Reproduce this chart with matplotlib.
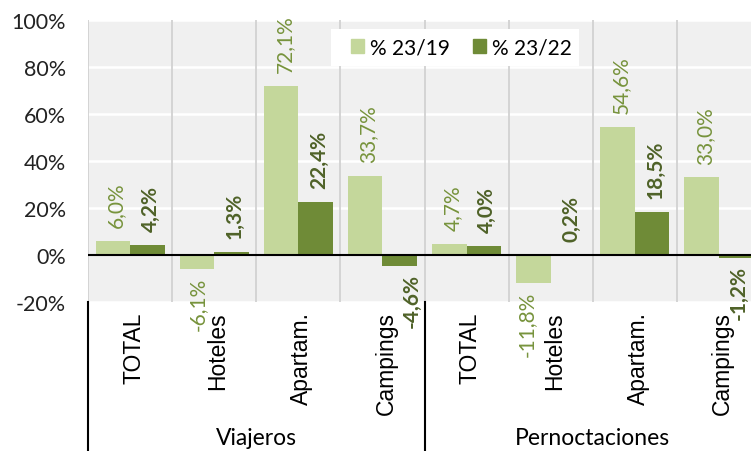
import matplotlib
matplotlib.use("Agg")
import matplotlib.pyplot as plt
from matplotlib.patches import Patch, Rectangle
from matplotlib.lines import Line2D
import matplotlib.transforms as mtrans

categories = ["TOTAL", "Hoteles", "Apartam.", "Campings", "TOTAL", "Hoteles", "Apartam.", "Campings"]
groups = ["Viajeros", "Pernoctaciones"]
series_names = ["% 23/19", "% 23/22"]
v_23_19 = [6.0, -6.1, 72.1, 33.7, 4.7, -11.8, 54.6, 33.0]
v_23_22 = [4.2, 1.3, 22.4, -4.6, 4.0, 0.2, 18.5, -1.2]
yticks = [-20, 0, 20, 40, 60, 80, 100]

# small manual horizontal nudges of some data labels (points), as in the original
nudge_19 = [0, -1, 0, 0, 0, -7, 0, 0]
nudge_22 = [0, 0, 0, 6.5, 0, 0, 0, 0]

light = "#c4d79b"
dark = "#6f8b37"
light_txt = "#77933c"
dark_txt = "#4f6228"
cal = ["Lato", "DejaVu Sans"]
ari = ["Liberation Sans Narrow", "Liberation Sans", "DejaVu Sans"]

W, H = 751, 452
fig = plt.figure(figsize=(W/100, H/100), dpi=100)
ax = fig.add_axes([88/W, 1-303/H, 673/W, (303-21)/H])
ax.set_facecolor("#f0f0f0")
for s in ax.spines.values():
    s.set_visible(False)

n = len(categories)
x = list(range(n))
w = 0.41
ax.set_xlim(-0.5, n-0.5)
ax.set_ylim(-20, 100)

for yv in yticks:
    if yv != 0:
        ax.axhline(yv, color="white", lw=1.8, zorder=1)
for i in range(n):
    ax.axvline(i-0.5, color="#d4d4d4", lw=1.4, zorder=1)

ax.bar([xi - w/2 for xi in x], v_23_19, width=w, color=light, zorder=2)
ax.bar([xi + w/2 for xi in x], v_23_22, width=w, color=dark, zorder=2)
ax.axhline(0, color="black", lw=1.5, zorder=3)

def fmt(v):
    return f"{v:.1f}%".replace(".", ",")

def label(xp, v, nud, color, weight):
    pos = v >= 0
    ax.annotate(fmt(v), (xp, v), xytext=((2.5 if pos else 2.0) + nud, 10 if pos else -5.5),
                textcoords="offset points", rotation=90, ha="center",
                va="bottom" if pos else "top", color=color, fontsize=15,
                fontweight=weight, family=cal, annotation_clip=False, zorder=4)

for xi, v, nd in zip(x, v_23_19, nudge_19):
    label(xi - w/2, v, nd, light_txt, "normal")
for xi, v, nd in zip(x, v_23_22, nudge_22):
    label(xi + w/2, v, nd, dark_txt, "bold")

ax.set_yticks(yticks)
ax.set_yticklabels([f"{t}%" for t in yticks], family=cal, fontsize=15.5, color="#222222")
ax.tick_params(axis="y", length=0, pad=16)
ax.set_xticks([])

# category labels
cat_tr = ax.get_xaxis_transform() + mtrans.ScaledTranslation(2.5/72, 0, fig.dpi_scale_trans)
for xi, c in zip(x, categories):
    ax.text(xi, -0.032, c, transform=cat_tr, rotation=90,
            ha="center", va="top", family=ari, fontsize=16.5, color="black")
# group labels
half = n // 2
tr = mtrans.blended_transform_factory(ax.transData, fig.transFigure)
for gi, g in enumerate(groups):
    xc = gi * half + (half - 1) / 2
    ax.text(xc, 1 - 439/H, g, transform=tr, ha="center", va="center",
            family=cal, fontsize=16.5, color="black")
# separator lines below axis
for xs in [-0.5, half - 0.5, n - 0.5]:
    fig.add_artist(Line2D([xs, xs], [0, 1 - 303/H], transform=tr, color="black", lw=1.5))

# legend
fig.add_artist(Rectangle((331/W, 1-67/H), (579-331)/W, 37/H, transform=fig.transFigure,
                         facecolor="white", edgecolor="none", zorder=5))
handles = [Patch(color=light), Patch(color=dark)]
leg = fig.legend(handles, series_names, loc="center left", bbox_to_anchor=(351/W, 1-48.5/H), ncol=2,
                 frameon=False, prop={"family": cal, "size": 15}, handlelength=0.62, handleheight=0.62,
                 handletextpad=0.3, columnspacing=1.1, borderpad=0, borderaxespad=0)
leg.set_zorder(6)
fig.savefig("out.png", dpi=100)
